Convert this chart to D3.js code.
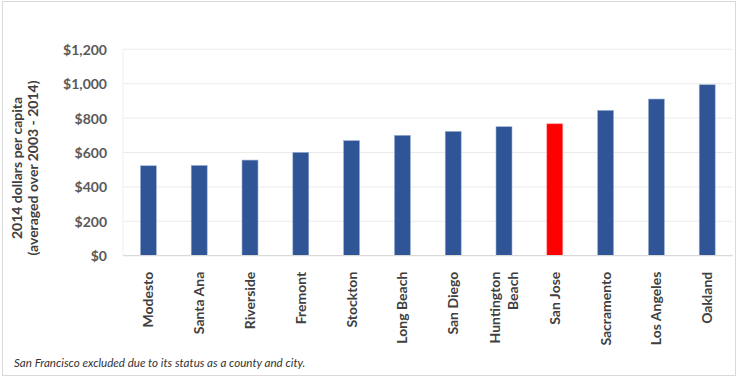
<!DOCTYPE html>
<html><head><meta charset="utf-8">
<script src="https://cdn.jsdelivr.net/npm/d3@7"></script>
<style>body{margin:0;background:#fff}svg{display:block}text{font-family:Lato,"Open Sans",sans-serif}</style>
</head><body><svg id="c" width="738" height="379"></svg>
<script>
const cities = ["Modesto","Santa Ana","Riverside","Fremont","Stockton","Long Beach","San Diego","Huntington Beach","San Jose","Sacramento","Los Angeles","Oakland"];
const values = [523,525,556,601,669,700,723,750,767,845,911,994];
const highlight = ["San Jose"];
const yTicks = [0,200,400,600,800,1000,1200];
const yTitle = ["2014 dollars per capita","(averaged over 2003 - 2014)"];
const footnote = "San Francisco excluded due to its status as a county and city.";

const svg = d3.select("#c");
svg.append("rect").attr("x",2.5).attr("y",1.5).attr("width",733).attr("height",374)
  .attr("fill","#fff").attr("stroke","#d9d9d9");

const x = d3.scaleBand().domain(cities).range([123,732.6]).paddingInner(0.685).paddingOuter(0.3425);
const y = d3.scaleLinear().domain([0,1200]).range([255.7,49.3]);

// gridlines
svg.append("g").selectAll("line").data(yTicks.slice(1)).join("line")
  .attr("x1",123).attr("x2",732.6).attr("y1",d=>y(d)).attr("y2",d=>y(d))
  .attr("stroke","#ebebeb").attr("stroke-width",1);

// left axis labels
const ya = svg.append("g").attr("transform","translate(107,0)")
  .call(d3.axisLeft(y).tickValues(yTicks).tickSize(0).tickPadding(0).tickFormat(d=>"$"+d3.format(",")(d)));
ya.select(".domain").remove();
ya.selectAll("text").attr("font-size",14).attr("font-weight","bold").attr("fill","#595959")
  .attr("font-family","Lato,'Open Sans',sans-serif").attr("dy","0.35em");

// bars
svg.append("g").selectAll("rect").data(cities).join("rect")
  .attr("x",d=>x(d)).attr("width",x.bandwidth())
  .attr("y",(d,i)=>y(values[i])).attr("height",(d,i)=>y(0)-y(values[i]))
  .attr("fill",d=>highlight.includes(d)?"#FF0000":"#2F5597")
  .attr("stroke",d=>highlight.includes(d)?"#ff9a9a":"#9fb3d6").attr("stroke-width",0.6);

// baseline
svg.append("line").attr("x1",123).attr("x2",732.6).attr("y1",y(0)).attr("y2",y(0))
  .attr("stroke","#d9d9d9").attr("stroke-width",1.2);
svg.append("line").attr("x1",123).attr("x2",123).attr("y1",y(1200)).attr("y2",y(0))
  .attr("stroke","#f0f0f0").attr("stroke-width",1);

// x labels
const xa = svg.append("g").attr("transform","translate(0,"+y(0)+")")
  .call(d3.axisBottom(x).tickSize(0).tickFormat(""));
xa.select(".domain").remove();
xa.selectAll(".tick").each(function(d){
  const g = d3.select(this);
  const words = d==="Huntington Beach" ? ["Huntington","Beach"] : [d];
  const t = g.append("text").attr("transform","translate(0,16) rotate(-90)")
    .attr("text-anchor","end").attr("font-size",14).attr("font-weight","bold").attr("fill","#404040");
  words.forEach((w,i)=>{
    t.append("tspan").attr("x",0).attr("y",(i-(words.length-1)/2)*18).attr("dy","0.35em").text(w);
  });
});

// y title
const yt = svg.append("text").attr("transform","translate(25,168) rotate(-90)")
  .attr("text-anchor","middle").attr("font-size",14).attr("font-weight","bold").attr("fill","#404040");
yTitle.forEach((l,i)=>yt.append("tspan").attr("x",0).attr("y",(i-0.5)*16.5).attr("dy","0.35em").text(l));

// footnote
svg.append("text").attr("x",14).attr("y",367).attr("font-size",11.6).attr("font-style","italic")
  .attr("fill","#333").attr("font-family","'Open Sans',sans-serif").text(footnote);
</script></body></html>
